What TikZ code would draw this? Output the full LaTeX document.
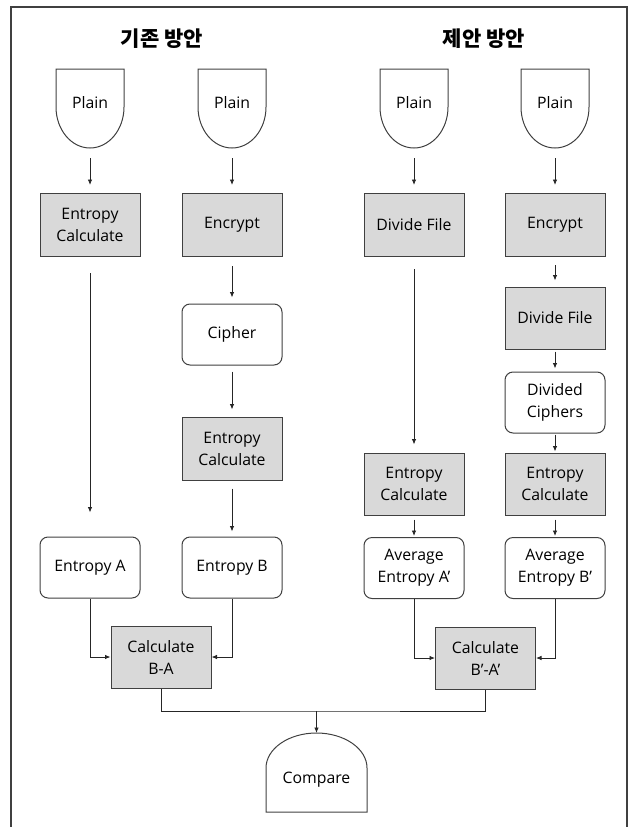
\documentclass[tikz,border=0pt]{standalone}
\usepackage{fontspec}
\setmainfont{Open Sans}
\newfontfamily\krfont{Noto Sans CJK KR}
\usetikzlibrary{arrows.meta}
\definecolor{bcol}{HTML}{404040}
\definecolor{lcol}{HTML}{262626}
\definecolor{gfill}{HTML}{D9D9D9}
\newcommand\latf{\fontsize{15.8pt}{22pt}\selectfont}
\tikzset{
  graybox/.style={draw=bcol, fill=gfill, line width=1pt, minimum width=100pt, minimum height=63pt, align=center, inner sep=0pt, font=\latf},
  roundbox/.style={graybox, fill=white, rounded corners=8pt},
  arr/.style={draw=lcol, line width=0.85pt, -{Latex[length=5.5pt,width=4.5pt]}},
  conn/.style={draw=lcol, line width=0.85pt},
  shapeline/.style={draw=bcol, line width=1pt},
  ghost/.style={inner sep=0pt, outer sep=0pt},
  lbl/.style={font=\latf, inner sep=0pt},
  ttl/.style={font=\krfont\bfseries\fontsize{21pt}{25pt}\selectfont, inner sep=0pt},
}
\newcommand\plainout[1]{\draw[shapeline] (#1.north west) -- (#1.north east) -- ([yshift=-38pt]#1.north east) arc[start angle=0, end angle=-180, x radius=34pt, y radius=41pt] -- cycle;}
\begin{document}
\begin{tikzpicture}[x=1pt,y=-1pt]
\useasboundingbox (0,0) rectangle (636,827);
% frame
\draw[draw=bcol, line width=1.3pt] (11,827) -- (11,7) -- (627,7) -- (627,827);
% titles
\node[ttl] (t1) at (162,39) {기존 방안};
\node[ttl] (t2) at (484,39) {제안 방안};
% plain shapes
\foreach \n/\x in {p1/90, p2/232, p3/414, p4/555}{
  \node[ghost, minimum width=68pt, minimum height=79pt] (\n) at (\x,108.5) {};
  \plainout{\n}
  \node[lbl] (\n t) at (\x,103) {Plain};
}
% top row
\node[graybox] (ec1) at (90,225) {Entropy\\Calculate};
\node[graybox] (enc2) at (232,225) {Encrypt};
\node[graybox] (df3) at (414,225) {Divide File};
\node[graybox] (enc4) at (555,225) {Encrypt};
% column 2
\node[roundbox, minimum height=61pt] (ci) at (232,334.5) {Cipher};
\node[graybox] (ec2) at (232,448.5) {Entropy\\Calculate};
% column 4
\node[graybox, minimum height=62pt] (df4) at (555,318) {Divide File};
\node[roundbox, minimum height=61pt] (dc) at (555,402.5) {Divided\\Ciphers};
\node[graybox, minimum height=62pt] (ec4) at (555,484) {Entropy\\Calculate};
% column 3
\node[graybox, minimum height=62pt] (ec3) at (414,484) {Entropy\\Calculate};
% entropy results
\node[roundbox, minimum height=61pt] (ea) at (90,567.5) {Entropy A};
\node[roundbox, minimum height=61pt] (eb) at (232,567.5) {Entropy B};
\node[roundbox, minimum height=61pt] (aa) at (414,568) {Average\\Entropy A’};
\node[roundbox, minimum height=61pt] (ab) at (555,568) {Average\\Entropy B’};
% calculate
\node[graybox, minimum height=62pt] (cba) at (161,657) {Calculate\\B-A};
\node[graybox, minimum height=62pt] (cbb) at (485.5,658) {Calculate\\B’-A’};
% compare
\node[ghost, minimum width=101pt, minimum height=79pt] (cmp) at (316.5,772.5) {};
\draw[shapeline] (cmp.south west) -- (cmp.south east) -- ([yshift=44pt]cmp.south east) arc[start angle=0, end angle=180, x radius=50.5pt, y radius=35pt] -- cycle;
\node[lbl] (cmpt) at (316.5,780) {Compare};
% arrows from plain
\foreach \a/\b in {p1/ec1, p2/enc2, p3/df3, p4/enc4}{
  \draw[arr, shorten <=10pt, shorten >=8pt] (\a.south) -- (\b.north);
}
\draw[arr, shorten <=16pt, shorten >=24pt] (ec1.south) -- (ea.north);
\draw[arr, shorten <=9pt, shorten >=6pt] (enc2.south) -- (ci.north);
\draw[arr, shorten <=6pt, shorten >=7pt] (ci.south) -- (ec2.north);
\draw[arr, shorten <=8pt, shorten >=5pt] (ec2.south) -- (eb.north);
\draw[arr, shorten <=12pt, shorten >=8pt] (df3.south) -- (ec3.north);
\draw[arr, shorten <=8pt, shorten >=6pt] (enc4.south) -- (df4.north);
\draw[arr, shorten <=2pt, shorten >=3pt] (df4.south) -- (dc.north);
\draw[arr, shorten <=1pt, shorten >=1pt] (dc.south) -- (ec4.north);
\draw[arr, shorten <=4pt, shorten >=1pt] (ec3.south) -- (aa.north);
\draw[arr, shorten <=4pt, shorten >=1pt] (ec4.south) -- (ab.north);
% to calculate
\draw[arr] (ea.south) |- (cba.west);
\draw[arr] (eb.south) |- (cba.east);
\draw[arr] (aa.south) |- (cbb.west);
\draw[arr] (ab.south) |- (cbb.east);
% to compare
\coordinate (jn) at (316.5,711);
\draw[conn] (cba.south) |- (jn) -| (cbb.south);
\draw[arr] (jn) -- (cmp.north);
\end{tikzpicture}
\end{document}
